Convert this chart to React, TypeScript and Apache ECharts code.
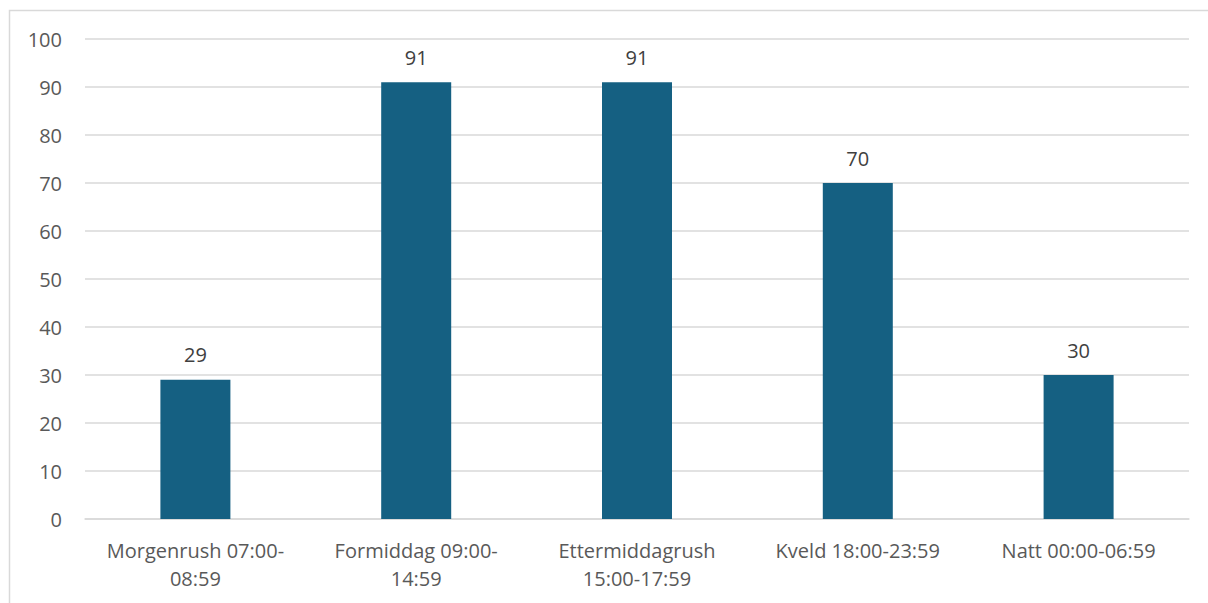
import React, { useEffect, useRef } from "react";
import * as echarts from "echarts";

const categories = [
  "Morgenrush 07:00-\n08:59",
  "Formiddag 09:00-\n14:59",
  "Ettermiddagrush\n15:00-17:59",
  "Kveld 18:00-23:59",
  "Natt 00:00-06:59",
];
const values = [29, 91, 91, 70, 30];

export default function App() {
  const ref = useRef<HTMLDivElement>(null);
  useEffect(() => {
    if (!ref.current) return;
    const chart = echarts.init(ref.current, null, { renderer: "svg" });
    const font = "'Open Sans', 'Noto Sans', sans-serif";
    chart.setOption({
      animation: false,
      backgroundColor: "#ffffff",
      graphic: [
        {
          type: "rect",
          shape: { x: 9.5, y: 10.5, width: 1400, height: 800 },
          style: { fill: "none", stroke: "#d9d9d9", lineWidth: 1.5 },
          silent: true,
        },
      ],
      grid: { left: 85, right: 19, top: 39, bottom: 84, containLabel: false },
      xAxis: {
        type: "category",
        data: categories,
        axisLine: { show: true, lineStyle: { color: "#d9d9d9", width: 1.5 } },
        axisTick: { show: false },
        axisLabel: {
          color: "#595959",
          fontSize: 20,
          fontFamily: font,
          lineHeight: 28,
          margin: 17,
          interval: 0,
        },
      },
      yAxis: {
        type: "value",
        min: 0,
        max: 100,
        interval: 10,
        axisLine: { show: false },
        axisTick: { show: false },
        splitLine: { lineStyle: { color: "#d9d9d9", width: 1.5 } },
        axisLabel: {
          color: "#595959",
          fontSize: 20,
          fontFamily: font,
          margin: 23,
        },
      },
      series: [
        {
          type: "bar",
          data: values,
          barWidth: 70,
          itemStyle: { color: "#156082" },
          label: {
            show: true,
            position: "top",
            distance: 15,
            color: "#404040",
            fontSize: 20,
            fontFamily: font,
          },
        },
      ],
    });
    return () => chart.dispose();
  }, []);
  return (
    <div
      ref={ref}
      style={{ position: "absolute", left: 0, top: 0, width: 1208, height: 603 }}
    />
  );
}
